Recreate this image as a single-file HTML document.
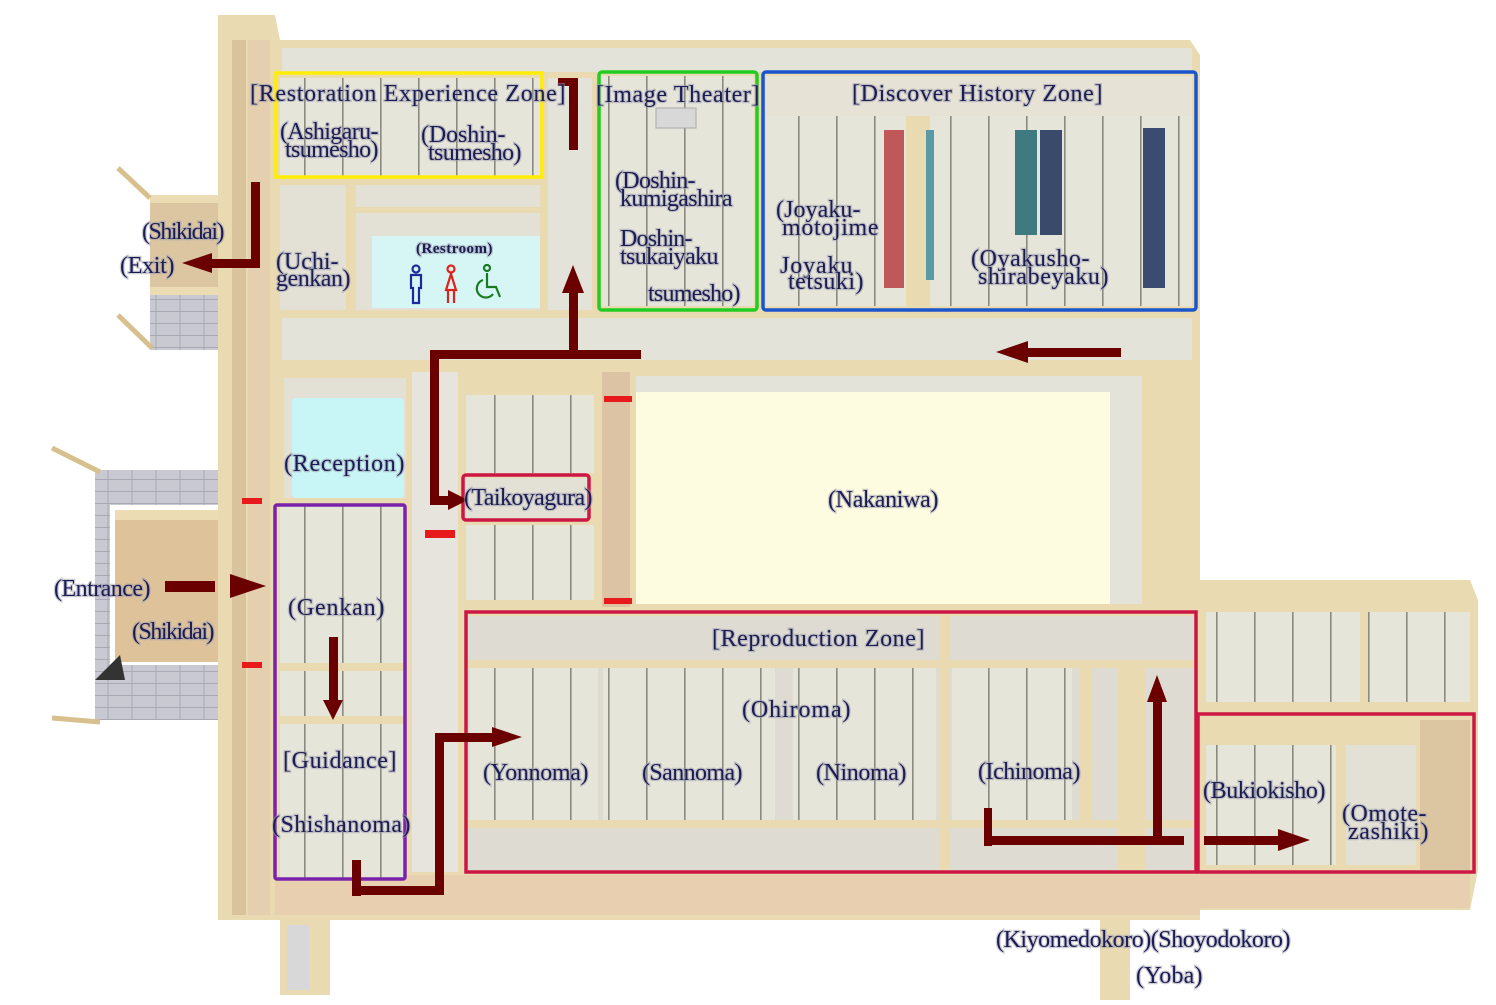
<!DOCTYPE html>
<html><head><meta charset="utf-8"><style>
html,body{margin:0;padding:0;background:#fff;}
svg{display:block;}
text{font-family:"Liberation Serif",serif;fill:#1b1b55;font-size:24px;letter-spacing:-0.5px;stroke:#9a9aa8;stroke-opacity:.5;stroke-width:2.5px;paint-order:stroke;}
</style></head><body>
<svg width="1496" height="1005" viewBox="0 0 1496 1005" xmlns="http://www.w3.org/2000/svg">
<defs>
<pattern id="tat" width="38" height="10" patternUnits="userSpaceOnUse">
<rect width="38" height="10" fill="#e6e5da"/><rect x="0" width="1.6" height="10" fill="#8a8a80"/>
</pattern>
<pattern id="brick" width="24" height="12" patternUnits="userSpaceOnUse">
<rect width="24" height="12" fill="#c9c9d2"/><path d="M0 11.5H24M12 0V12" stroke="#a9a9b4" stroke-width="1"/>
</pattern>
</defs>

<rect x="150" y="195" width="70" height="155" fill="url(#brick)"/>
<rect x="150" y="195" width="70" height="95" fill="#dcc6a2"/>
<rect x="150" y="195" width="70" height="8" fill="#ecdcb4"/>
<rect x="150" y="287" width="70" height="8" fill="#ecdcb4"/>
<line x1="118" y1="168" x2="150" y2="198" stroke="#d7c08e" stroke-width="5"/>
<line x1="118" y1="315" x2="152" y2="348" stroke="#d7c08e" stroke-width="5"/>

<rect x="95" y="470" width="125" height="250" fill="url(#brick)"/>
<rect x="110" y="505" width="108" height="160" fill="#fff"/>
<rect x="115" y="510" width="103" height="152" fill="#ddc29a"/>
<rect x="115" y="510" width="103" height="10" fill="#ecdcb4"/>
<polygon points="95,680 120,655 125,680" fill="#333"/>
<line x1="52" y1="448" x2="100" y2="472" stroke="#d7c08e" stroke-width="5"/>
<line x1="52" y1="718" x2="100" y2="722" stroke="#d7c08e" stroke-width="5"/>

<polygon points="218,15 275,15 280,40 1190,40 1200,55 1200,580 1470,580 1478,600 1478,870 1470,910 1200,910 1200,920 1100,920 1100,1000 1130,1000 1130,920 330,920 330,995 280,995 280,920 218,920" fill="#e9dab2"/>
<rect x="287" y="925" width="22" height="65" fill="#d8d8d8"/>
<rect x="232" y="40" width="14" height="875" fill="#d8c39c"/>
<rect x="248" y="40" width="22" height="875" fill="#e4cfae"/>
<rect x="275" y="875" width="925" height="40" fill="#e8cfb0"/>
<rect x="1200" y="873" width="270" height="35" fill="#e8cfb0"/>

<rect x="282" y="48" width="910" height="24" fill="#e4e3da"/>
<rect x="280" y="78" width="260" height="100" fill="url(#tat)"/>
<rect x="280" y="185" width="66" height="125" fill="#e3e0d6"/>
<rect x="356" y="185" width="184" height="22" fill="#e3e0d6"/>
<rect x="356" y="213" width="184" height="97" fill="#e3e0d6"/>
<rect x="372" y="236" width="168" height="72" fill="#d6f6f6"/>
<rect x="548" y="78" width="44" height="232" fill="#e4e3da"/>
<rect x="602" y="76" width="152" height="230" fill="url(#tat)"/>
<rect x="656" y="108" width="40" height="20" fill="#d8d8d8" stroke="#aaa"/>
<rect x="766" y="76" width="140" height="230" fill="url(#tat)"/>
<rect x="930" y="76" width="262" height="230" fill="url(#tat)"/>
<rect x="766" y="76" width="426" height="40" fill="#e6e3d6"/>
<rect x="884" y="130" width="20" height="158" fill="#c0585a"/>
<rect x="926" y="130" width="8" height="150" fill="#5a9aa8"/>
<rect x="1015" y="130" width="22" height="105" fill="#3e7a80"/>
<rect x="1040" y="130" width="22" height="105" fill="#3a4a6a"/>
<rect x="1143" y="128" width="22" height="160" fill="#3c4c70"/>
<rect x="282" y="318" width="910" height="42" fill="#e4e3da"/>

<rect x="284" y="378" width="122" height="120" fill="#e3e0d6"/>
<rect x="292" y="398" width="112" height="100" rx="4" fill="#c8f5f5"/>
<rect x="280" y="505" width="124" height="375" fill="url(#tat)"/>
<rect x="280" y="663" width="124" height="8" fill="#e9dab2"/>
<rect x="280" y="716" width="124" height="8" fill="#e9dab2"/>
<rect x="412" y="372" width="46" height="500" fill="#e6e4dc"/>
<rect x="466" y="395" width="128" height="78" fill="url(#tat)"/>
<rect x="466" y="525" width="128" height="75" fill="url(#tat)"/>
<rect x="466" y="478" width="124" height="42" fill="#e3e0d6"/>
<rect x="602" y="372" width="28" height="235" fill="#dcc3a4"/>

<rect x="636" y="376" width="506" height="228" fill="#e3e3da"/>
<rect x="636" y="392" width="474" height="212" fill="#fdfbe0"/>

<rect x="468" y="616" width="726" height="254" fill="#dedcd2"/>
<rect x="470" y="668" width="128" height="152" fill="url(#tat)"/>
<rect x="603" y="668" width="172" height="152" fill="url(#tat)"/>
<rect x="793" y="668" width="143" height="152" fill="url(#tat)"/>
<rect x="952" y="668" width="120" height="152" fill="url(#tat)"/>
<rect x="468" y="660" width="726" height="8" fill="#e9dab2"/>
<rect x="468" y="820" width="726" height="8" fill="#e9dab2"/>
<rect x="940" y="616" width="10" height="254" fill="#e9dab2"/>
<rect x="1080" y="668" width="12" height="152" fill="#e9dab2"/>
<rect x="1118" y="668" width="28" height="202" fill="#e9dab2"/>

<rect x="1206" y="612" width="264" height="90" fill="url(#tat)"/>
<rect x="1206" y="604" width="264" height="8" fill="#e9dab2"/>
<rect x="1360" y="612" width="8" height="95" fill="#e9dab2"/>
<rect x="1206" y="745" width="130" height="120" fill="url(#tat)"/>
<rect x="1346" y="745" width="70" height="120" fill="#e3e0d6"/>
<rect x="1420" y="720" width="50" height="150" fill="#dcc6a2"/>

<g fill="#e8191b">
<rect x="242" y="498" width="20" height="6"/><rect x="242" y="662" width="20" height="6"/>
<rect x="425" y="530" width="30" height="8"/>
<rect x="604" y="396" width="28" height="6"/><rect x="604" y="598" width="28" height="6"/>
</g>

<g fill="none" stroke-width="3.5">
<rect x="276" y="73" width="266" height="104" stroke="#ffee00"/>
<rect x="599" y="72" width="158" height="238" stroke="#22cc22" rx="3"/>
<rect x="763" y="72" width="433" height="238" stroke="#1a55cc" rx="3"/>
<rect x="275" y="505" width="130" height="374" stroke="#7a22aa" rx="2"/>
<rect x="463" y="475" width="126" height="45" stroke="#cc1744" rx="3"/>
<rect x="466" y="612" width="730" height="260" stroke="#cc1744"/>
<rect x="1198" y="714" width="276" height="158" stroke="#cc1744"/>
</g>

<g fill="#6b0000" stroke="none">
<rect x="251" y="182" width="9" height="86"/>
<rect x="210" y="259" width="50" height="9"/>
<polygon points="182,263 212,253 212,273"/>
<rect x="569" y="78" width="9" height="72"/>
<rect x="558" y="78" width="20" height="8"/>
<rect x="569" y="290" width="9" height="66"/>
<polygon points="573,265 562,293 584,293"/>
<rect x="430" y="350" width="211" height="9"/>
<rect x="430" y="350" width="9" height="155"/>
<rect x="430" y="496" width="20" height="9"/>
<polygon points="468,500 448,490 448,510"/>
<rect x="1025" y="348" width="96" height="9"/>
<polygon points="996,352 1028,341 1028,363"/>
<rect x="165" y="581" width="50" height="11"/>
<polygon points="266,586 230,574 230,598"/>
<rect x="329" y="637" width="9" height="65"/>
<polygon points="333,720 323,700 343,700"/>
<rect x="352" y="860" width="9" height="36"/>
<rect x="352" y="886" width="92" height="9"/>
<rect x="435" y="733" width="9" height="162"/>
<rect x="435" y="733" width="60" height="9"/>
<polygon points="522,737 492,727 492,747"/>
<rect x="984" y="808" width="8" height="38"/>
<rect x="984" y="836" width="200" height="9"/>
<rect x="1153" y="700" width="9" height="140"/>
<polygon points="1157,675 1147,702 1167,702"/>
<rect x="1204" y="836" width="78" height="9"/>
<polygon points="1310,840 1278,829 1278,851"/>
</g>

<text x="250" y="101" textLength="315">[Restoration Experience Zone]</text>
<text x="280" y="139" textLength="98">(Ashigaru-</text>
<text x="285" y="157" textLength="93">tsumesho)</text>
<text x="421" y="142" textLength="84">(Doshin-</text>
<text x="428" y="160" textLength="93">tsumesho)</text>
<text x="596" y="102" textLength="163">[Image Theater]</text>
<text x="615" y="188" textLength="80">(Doshin-</text>
<text x="620" y="206" textLength="112">kumigashira</text>
<text x="620" y="246" textLength="72">Doshin-</text>
<text x="620" y="264" textLength="98">tsukaiyaku</text>
<text x="648" y="301" textLength="92">tsumesho)</text>
<text x="852" y="101" textLength="250">[Discover History Zone]</text>
<text x="776" y="217" textLength="84">(Joyaku-</text>
<text x="782" y="235" textLength="96">motojime</text>
<text x="780" y="273" textLength="72">Joyaku</text>
<text x="788" y="289" textLength="75">tetsuki)</text>
<text x="971" y="266" textLength="118">(Oyakusho-</text>
<text x="978" y="284" textLength="130">shirabeyaku)</text>
<text x="142" y="239" textLength="82">(Shikidai)</text>
<text x="120" y="273" textLength="54">(Exit)</text>
<text x="276" y="269" textLength="62">(Uchi-</text>
<text x="276" y="286" textLength="74">genkan)</text>
<text x="416" y="253" style="font-size:15px;font-weight:bold" textLength="76">(Restroom)</text>
<text x="284" y="471" textLength="120">(Reception)</text>
<text x="464" y="505" textLength="128">(Taikoyagura)</text>
<text x="828" y="507" textLength="110">(Nakaniwa)</text>
<text x="54" y="596" textLength="96">(Entrance)</text>
<text x="132" y="639" textLength="82">(Shikidai)</text>
<text x="288" y="615" textLength="96">(Genkan)</text>
<text x="283" y="768" textLength="113">[Guidance]</text>
<text x="272" y="832" textLength="138">(Shishanoma)</text>
<text x="712" y="646" textLength="212">[Reproduction Zone]</text>
<text x="742" y="717" textLength="108">(Ohiroma)</text>
<text x="483" y="780" textLength="105">(Yonnoma)</text>
<text x="642" y="780" textLength="100">(Sannoma)</text>
<text x="816" y="780" textLength="90">(Ninoma)</text>
<text x="978" y="779" textLength="102">(Ichinoma)</text>
<text x="1203" y="798" textLength="122">(Bukiokisho)</text>
<text x="1342" y="821" textLength="84">(Omote-</text>
<text x="1348" y="839" textLength="80">zashiki)</text>
<text x="996" y="947" textLength="294">(Kiyomedokoro)(Shoyodokoro)</text>
<text x="1136" y="983" textLength="66">(Yoba)</text>

<g fill="none" stroke-width="2.2">
<g stroke="#1a2a9a"><circle cx="416" cy="269" r="3.5"/><path d="M411 275h10v13h-2v15h-6v-15h-2z"/></g>
<g stroke="#e0201a"><circle cx="451" cy="269" r="3.5"/><path d="M451 274l-5 16h10zM448 290v13M454 290v13"/></g>
<g stroke="#1a7a20"><circle cx="487" cy="268" r="3"/><path d="M487 273v14h9l4 10M483 280a9 9 0 1 0 10 14"/></g>
</g>
</svg>
</body></html>
